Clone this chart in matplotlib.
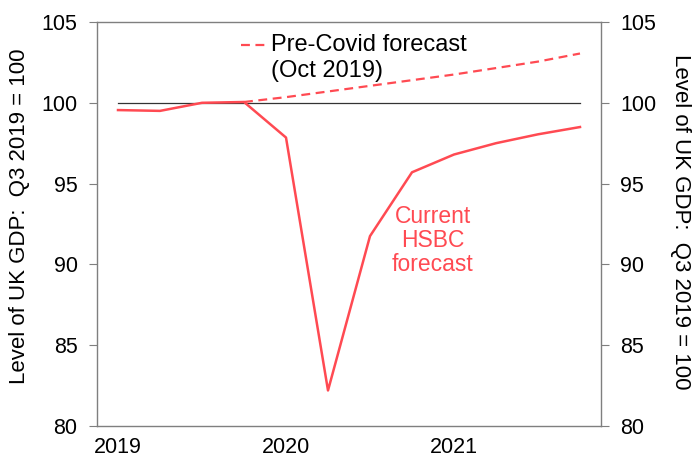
import matplotlib
matplotlib.use("Agg")
import matplotlib.pyplot as plt

plt.rcParams["font.family"] = ["Liberation Sans", "DejaVu Sans"]

# quarterly, 2019 Q1 .. 2021 Q4
quarters = list(range(12))
current = [99.55, 99.5, 100.0, 100.05, 97.85, 82.2, 91.75, 95.7, 96.8, 97.5, 98.05, 98.5]
# pre-covid forecast starts from 2019 Q4
pre_q = list(range(3, 12))
pre_covid = [100.05, 100.35, 100.7, 101.05, 101.4, 101.75, 102.15, 102.55, 103.05]
year_ticks = [0, 4, 8]
year_labels = ["2019", "2020", "2021"]
yticks = [80, 85, 90, 95, 100, 105]

red = "#ff4a52"
grey = "#7f7f7f"
ylabel = "Level of UK GDP:  Q3 2019 = 100"

W, H = 694, 463
fig = plt.figure(figsize=(W / 100, H / 100), dpi=100)
ax = fig.add_axes([97 / W, 37 / H, 504 / W, 404 / H])

ax.plot(quarters, [100] * len(quarters), color="#333333", lw=0.9)
ax.plot(pre_q, pre_covid, color=red, lw=1.6, ls=(0, (4, 2.5)))
ax.plot(quarters, current, color=red, lw=1.8)

ax.set_xlim(-0.5, 11.5)
ax.set_ylim(80, 105)
ax.set_xticks(year_ticks)
ax.set_xticklabels(year_labels, fontsize=15.5)
ax.set_yticks(yticks)
for s in ax.spines.values():
    s.set_color(grey)
    s.set_linewidth(1.0)
ax.tick_params(axis="x", length=0, pad=8)
ax.tick_params(axis="y", direction="out", length=6, color=grey, labelsize=15.5,
               left=True, right=True, labelleft=True, labelright=True, pad=8)

# axis titles on both sides, placed in figure pixels
fig.text(20 / W, 1 - 216 / H, ylabel, fontsize=16, rotation=90,
         ha="center", va="center")
fig.text(681 / W, 1 - 222 / H, ylabel, fontsize=16, rotation=-90,
         ha="center", va="center")

# legend-like annotation for the dashed line
ax.plot([2.94, 3.54], [103.58, 103.58], color=red, lw=1.6, ls=(0, (4, 2.5)))
ax.text(3.64, 103.58, "Pre-Covid forecast", fontsize=17, va="center", ha="left")
ax.text(3.64, 101.95, "(Oct 2019)", fontsize=17, va="center", ha="left")

ax.text(7.49, 91.5, "Current\nHSBC\nforecast", fontsize=16.5, color=red,
        ha="center", va="center", linespacing=1.05)

plt.savefig("out.png", dpi=100)
